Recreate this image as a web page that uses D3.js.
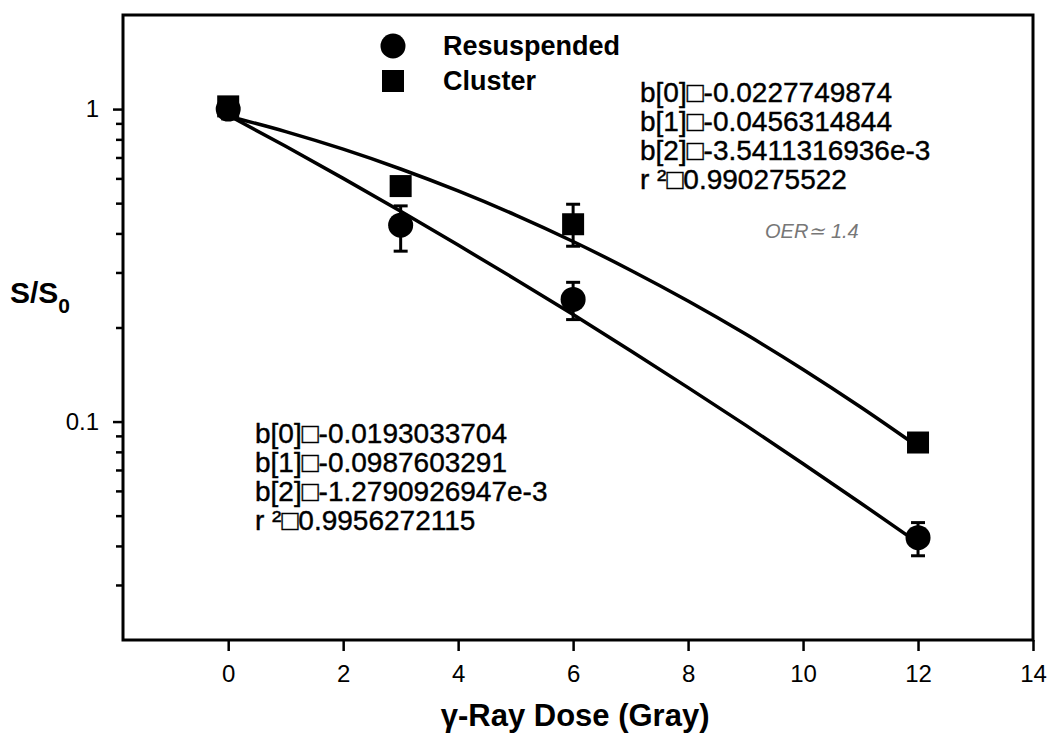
<!DOCTYPE html>
<html>
<head>
<meta charset="utf-8">
<script src="https://cdn.jsdelivr.net/npm/d3@7"></script>
<style>
  body { margin: 0; background: #fff; }
  svg { font-family: "Liberation Sans", Arial, sans-serif; }
</style>
</head>
<body>
<div id="vis"></div>
<script>
// Frame size
const FRAME_WIDTH = 1053;
const FRAME_HEIGHT = 736;

// Plot box edges (pixels)
const PLOT = {left: 123, right: 1033, top: 15, bottom: 640};

// Measured points: Resuspended (circles)
const RES_X = [0, 3, 6, 12];
const RES_Y = [1.0, 0.425, 0.246, 0.0425];
const RES_LO = [0.93, 0.351, 0.212, 0.0372];
const RES_HI = [1.05, 0.49, 0.279, 0.0475];

// Measured points: Cluster (squares)
const CLU_X = [0, 3, 6, 12];
const CLU_Y = [1.02, 0.567, 0.428, 0.0857];
const CLU_LO = [0.94, 0.54, 0.364, 0.0857];
const CLU_HI = [1.07, 0.60, 0.496, 0.0857];

// Fit curves
const FIT_X = [0, 1, 2, 3, 4, 5, 6, 7, 8, 9, 10, 11, 12];
const RES_FIT = [0.956, 0.760, 0.600, 0.471, 0.367, 0.285, 0.220, 0.1685, 0.1284, 0.0974, 0.0733, 0.0549, 0.0409];
const CLU_FIT = [0.949, 0.847, 0.744, 0.643, 0.547, 0.458, 0.377, 0.305, 0.243, 0.1905, 0.1468, 0.1113, 0.0831];

// Axis ticks
const X_TICKS = [0, 2, 4, 6, 8, 10, 12, 14];
const Y_MAJOR = [1, 0.1];
const Y_MINOR = [0.9, 0.8, 0.7, 0.6, 0.5, 0.4, 0.3, 0.2, 0.09, 0.08, 0.07, 0.06, 0.05, 0.04, 0.03];

// Fit parameter text
const CLU_TEXT = ["b[0]\u25A1-0.0227749874", "b[1]\u25A1-0.0456314844", "b[2]\u25A1-3.5411316936e-3", "r \u00B2\u25A10.990275522"];
const RES_TEXT = ["b[0]\u25A1-0.0193033704", "b[1]\u25A1-0.0987603291", "b[2]\u25A1-1.2790926947e-3", "r \u00B2\u25A10.9956272115"];

const FRAME = d3.select("#vis")
                .append("svg")
                .attr("width", FRAME_WIDTH)
                .attr("height", FRAME_HEIGHT);

const X_SCALE = d3.scaleLinear()
                  .domain([-1.83, 14])
                  .range([PLOT.left, PLOT.right]);

const Y_SCALE = d3.scaleLog()
                  .domain([0.02, 2])
                  .range([PLOT.bottom, PLOT.top]);

// Plot box
FRAME.append("rect")
     .attr("x", PLOT.left)
     .attr("y", PLOT.top)
     .attr("width", PLOT.right - PLOT.left)
     .attr("height", PLOT.bottom - PLOT.top)
     .attr("fill", "none")
     .attr("stroke", "#000")
     .attr("stroke-width", 3);

// X axis
const xAxis = FRAME.append("g")
     .attr("transform", "translate(0," + PLOT.bottom + ")")
     .call(d3.axisBottom(X_SCALE).tickValues(X_TICKS).tickSize(11).tickPadding(14).tickFormat(d3.format("d")));
xAxis.select(".domain").remove();
xAxis.selectAll("line").attr("stroke-width", 2.5);
xAxis.selectAll("text").attr("font-size", "24px").attr("fill", "#000");

// Y axis major ticks
const yAxis = FRAME.append("g")
     .attr("transform", "translate(" + PLOT.left + ",0)")
     .call(d3.axisLeft(Y_SCALE).tickValues(Y_MAJOR).tickSize(10).tickPadding(14).tickFormat(d => d === 1 ? "1" : "0.1"));
yAxis.select(".domain").remove();
yAxis.selectAll("line").attr("stroke-width", 2.5);
yAxis.selectAll("text").attr("font-size", "24px").attr("fill", "#000");

// Y axis minor ticks
const yMinor = FRAME.append("g")
     .attr("transform", "translate(" + PLOT.left + ",0)")
     .call(d3.axisLeft(Y_SCALE).tickValues(Y_MINOR).tickSize(7).tickFormat(""));
yMinor.select(".domain").remove();
yMinor.selectAll("line").attr("stroke-width", 2.5);

// Axis titles
FRAME.append("text")
     .attr("x", (X_SCALE(0) + X_SCALE(12)) / 2 + 2)
     .attr("y", 726)
     .attr("text-anchor", "middle")
     .attr("font-size", "31px")
     .attr("font-weight", "bold")
     .text("\u03B3-Ray Dose (Gray)");

const yTitle = FRAME.append("text")
     .attr("x", 10)
     .attr("y", 303)
     .attr("font-size", "30px")
     .attr("font-weight", "bold");
yTitle.append("tspan").text("S/S");
yTitle.append("tspan").attr("font-size", "21px").attr("dy", 10).text("0");

// Fit lines
const line = d3.line()
               .x((d, i) => X_SCALE(FIT_X[i]))
               .y(d => Y_SCALE(d))
               .curve(d3.curveMonotoneX);

[RES_FIT, CLU_FIT].forEach(fit => {
  FRAME.append("path")
       .attr("d", line(fit))
       .attr("fill", "none")
       .attr("stroke", "#000")
       .attr("stroke-width", 3.5);
});

// Error bars
function errorBars(xs, lo, hi) {
  const g = FRAME.append("g").attr("stroke", "#000").attr("stroke-width", 3);
  xs.forEach((x, i) => {
    const cx = X_SCALE(x);
    g.append("line").attr("x1", cx).attr("x2", cx).attr("y1", Y_SCALE(lo[i])).attr("y2", Y_SCALE(hi[i]));
    g.append("line").attr("x1", cx - 7).attr("x2", cx + 7).attr("y1", Y_SCALE(lo[i])).attr("y2", Y_SCALE(lo[i]));
    g.append("line").attr("x1", cx - 7).attr("x2", cx + 7).attr("y1", Y_SCALE(hi[i])).attr("y2", Y_SCALE(hi[i]));
  });
}
errorBars(RES_X, RES_LO, RES_HI);
errorBars(CLU_X, CLU_LO, CLU_HI);

// Points
FRAME.append("g").selectAll("circle")
     .data(RES_Y)
     .enter()
     .append("circle")
     .attr("cx", (d, i) => X_SCALE(RES_X[i]))
     .attr("cy", d => Y_SCALE(d))
     .attr("r", 12.5)
     .attr("fill", "#000");

FRAME.append("g").selectAll("rect")
     .data(CLU_Y)
     .enter()
     .append("rect")
     .attr("x", (d, i) => X_SCALE(CLU_X[i]) - 11)
     .attr("y", d => Y_SCALE(d) - 11)
     .attr("width", 22)
     .attr("height", 22)
     .attr("fill", "#000");

// Legend
FRAME.append("circle").attr("cx", 393).attr("cy", 46).attr("r", 12.5).attr("fill", "#000");
FRAME.append("rect").attr("x", 382).attr("y", 70).attr("width", 22).attr("height", 22).attr("fill", "#000");
FRAME.append("text").attr("x", 443).attr("y", 55).attr("font-size", "27px").attr("font-weight", "bold").text("Resuspended");
FRAME.append("text").attr("x", 443).attr("y", 90).attr("font-size", "27px").attr("font-weight", "bold").text("Cluster");

// Fit parameter blocks
function textBlock(lines, x, y0) {
  FRAME.append("g").selectAll("text")
       .data(lines)
       .enter()
       .append("text")
       .attr("x", x)
       .attr("y", (d, i) => y0 + i * 29)
       .attr("font-size", "28px")
       .attr("stroke", "#000")
       .attr("stroke-width", 0.4)
       .text(d => d);
}
textBlock(CLU_TEXT, 640, 102);
textBlock(RES_TEXT, 255, 443);

// Handwritten note
FRAME.append("text")
     .attr("x", 765)
     .attr("y", 238)
     .attr("font-size", "20px")
     .attr("font-style", "italic")
     .attr("fill", "#777")
     .text("OER\u2243 1.4");
</script>
</body>
</html>
